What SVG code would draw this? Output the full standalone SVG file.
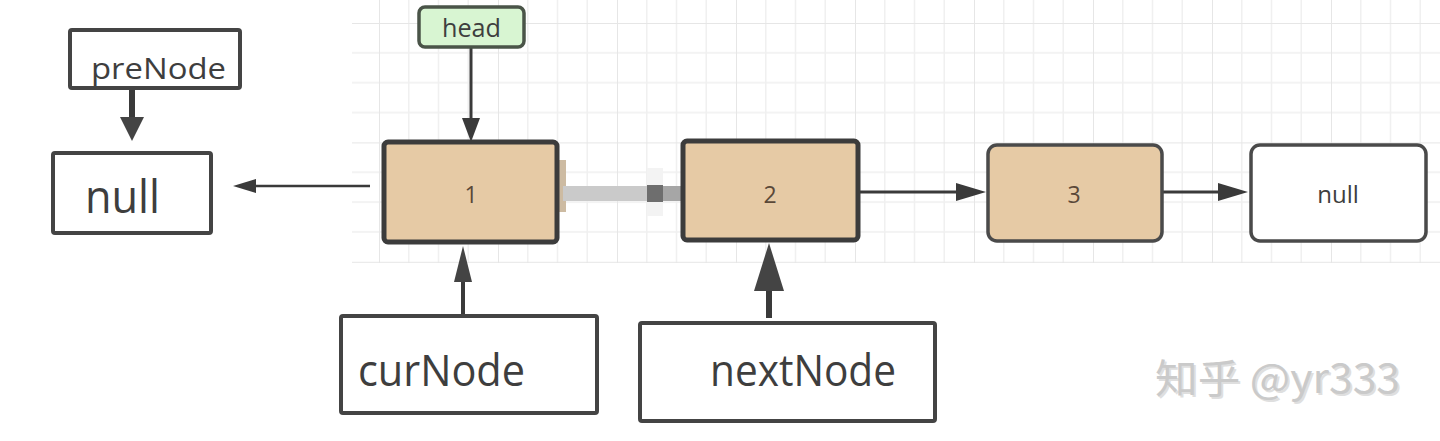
<svg xmlns="http://www.w3.org/2000/svg" width="1440" height="441" viewBox="0 0 1440 441">
<style>
.lbl{font-family:"Open Sans","Liberation Sans",sans-serif;fill:#3e3e3e}
.num{font-family:"Open Sans","Liberation Sans",sans-serif;fill:#5a4838;font-size:23px;text-anchor:middle}
.ptr{fill:#ffffff;stroke:#444444;stroke-width:4}
.ln{fill:#e6caa5;stroke:#3c3c3c;stroke-width:5}
.ln2{fill:#e6caa5;stroke:#4a4a4a;stroke-width:3.5}
.wh{fill:#ffffff;stroke:#4a4a4a;stroke-width:3.5}
.c{fill:none;stroke:#3a3a3a}
</style>
<defs>
<pattern id="grid" patternUnits="userSpaceOnUse" x="379" y="23" width="119" height="119.4">
<path d="M29.75 0V119.4M59.5 0V119.4M89.25 0V119.4M0 29.85H119M0 59.7H119M0 89.55H119" stroke="#f0f0f0" stroke-width="1.6" fill="none"/>
<path d="M0 0V119.4M0 0H119" stroke="#e6e6e6" stroke-width="2" fill="none"/>
</pattern>
<marker id="hS" markerUnits="userSpaceOnUse" markerWidth="32" markerHeight="20" refX="0" refY="9" orient="auto"><path d="M0,0 L30,9 L0,18 z" fill="#3a3a3a"/></marker>
<marker id="hH" markerUnits="userSpaceOnUse" markerWidth="26" markerHeight="20" refX="0" refY="9" orient="auto"><path d="M0,0 L24,9 L0,18 z" fill="#3a3a3a"/></marker>
<marker id="hL" markerUnits="userSpaceOnUse" markerWidth="26" markerHeight="16" refX="0" refY="7" orient="auto"><path d="M0,0 L23,7 L0,14 z" fill="#3a3a3a"/></marker>
<marker id="hP" markerUnits="userSpaceOnUse" markerWidth="26" markerHeight="26" refX="0" refY="12" orient="auto"><path d="M0,0 L24,12 L0,24 z" fill="#444444"/></marker>
<marker id="hC" markerUnits="userSpaceOnUse" markerWidth="38" markerHeight="20" refX="0" refY="9" orient="auto"><path d="M0,0 L36,9 L0,18 z" fill="#444444"/></marker>
<marker id="hN" markerUnits="userSpaceOnUse" markerWidth="50" markerHeight="32" refX="0" refY="15" orient="auto"><path d="M0,0 L48,15 L0,30 z" fill="#444444"/></marker>
</defs>
<rect width="1440" height="441" fill="#ffffff"/>
<rect x="352" y="0" width="1088" height="263" fill="url(#grid)"/>

<g id="connectors">
<path class="c" stroke-width="3" d="M471 47V118" marker-end="url(#hH)"/>
<path class="c" stroke-width="3" d="M860 192H956" marker-end="url(#hS)"/>
<path class="c" stroke-width="3" d="M1163 192H1218" marker-end="url(#hS)"/>
<path class="c" stroke-width="2.5" d="M370 186H256" marker-end="url(#hL)"/>
<path class="c" stroke="#444" stroke-width="6" d="M132 88V117" marker-end="url(#hP)"/>
<path class="c" stroke="#444" stroke-width="4" d="M463 316V282" marker-end="url(#hC)"/>
<path class="c" stroke="#444" stroke-width="6" d="M769 318V291" marker-end="url(#hN)"/>
</g>

<g id="erased">
<rect x="647" y="168" width="16" height="48" fill="#f3f3f3"/>
<path d="M557 160 Q548 186 557 212 L566 212 L566 160 z" fill="#cdbba2"/>
<path d="M682 150 Q692 190 682 232 L688 232 L688 150 z" fill="#d4c2aa"/>
<rect x="563" y="186" width="84" height="15" fill="#cacaca"/>
<rect x="647" y="185" width="16" height="17" fill="#6e6e6e"/>
<rect x="663" y="186" width="19" height="15" fill="#a6a6a6"/>
</g>

<g id="head">
<rect x="419" y="7" width="105" height="40" rx="6" fill="#d8f5d2" stroke="#4a5448" stroke-width="3.5"/>
<text class="lbl" x="471.5" y="37" font-size="25" text-anchor="middle" textLength="59" lengthAdjust="spacingAndGlyphs">head</text>
</g>

<g id="preNode">
<rect class="ptr" x="70" y="30" width="170" height="58" rx="2"/>
<text class="lbl" x="91" y="79" font-size="29" textLength="135" lengthAdjust="spacingAndGlyphs">preNode</text>
</g>

<g id="nullLeft">
<rect class="ptr" x="53" y="153" width="158" height="80" rx="2"/>
<text class="lbl" x="85" y="213" font-size="46" textLength="75" lengthAdjust="spacingAndGlyphs">null</text>
</g>

<g id="node1">
<rect class="ln" x="384" y="142" width="173" height="100" rx="4"/>
<text class="num" x="471" y="203">1</text>
</g>

<g id="node2">
<rect class="ln" x="683" y="141" width="175" height="99" rx="4"/>
<text class="num" x="770" y="203">2</text>
</g>

<g id="node3">
<rect class="ln2" x="988" y="145" width="174" height="96" rx="9"/>
<text class="num" x="1074" y="203">3</text>
</g>

<g id="nullRight">
<rect class="wh" x="1251" y="145" width="175" height="96" rx="9"/>
<text class="lbl" x="1338" y="203" font-size="24" text-anchor="middle" fill="#505050">null</text>
</g>

<g id="curNode">
<rect class="ptr" x="341" y="316" width="256" height="97" rx="2"/>
<text class="lbl" x="358" y="386" font-size="44" textLength="167" lengthAdjust="spacingAndGlyphs">curNode</text>
</g>

<g id="nextNode">
<rect class="ptr" x="640" y="323" width="295" height="98" rx="2"/>
<text class="lbl" x="710" y="386" font-size="44" textLength="186" lengthAdjust="spacingAndGlyphs">nextNode</text>
</g>

<g id="watermark">
<text x="1157" y="395" font-family="'Noto Sans CJK SC','Liberation Sans',sans-serif" font-size="40" fill="#999999" opacity="0.3" textLength="245" lengthAdjust="spacingAndGlyphs">知乎 @yr333</text>
<text x="1155" y="393" font-family="'Noto Sans CJK SC','Liberation Sans',sans-serif" font-size="40" fill="#cacaca" textLength="245" lengthAdjust="spacingAndGlyphs">知乎 @yr333</text>
</g>
</svg>
